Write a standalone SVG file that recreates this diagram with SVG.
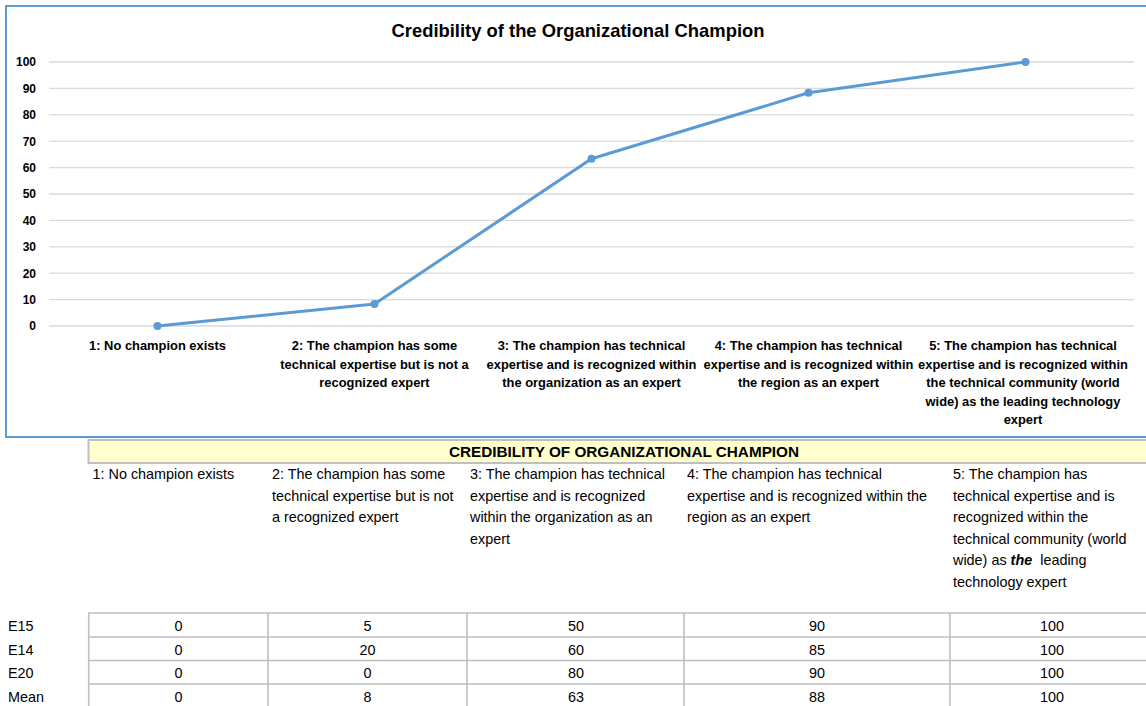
<svg xmlns="http://www.w3.org/2000/svg" width="1146" height="706" viewBox="0 0 1146 706">
<style>
text{font-family:"Liberation Sans",Arial,sans-serif;fill:#000}
.t{font-size:18.4px;font-weight:bold;text-anchor:middle}
.y{font-size:12px;font-weight:bold;text-anchor:end}
.x{font-size:12.9px;font-weight:bold;text-anchor:middle}
.d{font-size:14.4px}
.n{font-size:14.4px;text-anchor:middle}
.h{font-size:15.3px;font-weight:bold;text-anchor:middle}
.grid{stroke:#d9d9d9;stroke-width:1.3}
.tl{stroke:#bfbfbf;stroke-width:1.6;fill:none}
</style>
<rect width="1146" height="706" fill="#fff"/>
<g id="chart">
<rect x="6" y="6" width="1160" height="431" fill="#fff" stroke="#5b9bd5" stroke-width="2"/>
<text class="t" x="578" y="37">Credibility of the Organizational Champion</text>
<g id="gridlines">
<line class="grid" x1="49" y1="62" x2="1134" y2="62"/>
<line class="grid" x1="49" y1="88.4" x2="1134" y2="88.4"/>
<line class="grid" x1="49" y1="114.8" x2="1134" y2="114.8"/>
<line class="grid" x1="49" y1="141.2" x2="1134" y2="141.2"/>
<line class="grid" x1="49" y1="167.6" x2="1134" y2="167.6"/>
<line class="grid" x1="49" y1="194" x2="1134" y2="194"/>
<line class="grid" x1="49" y1="220.4" x2="1134" y2="220.4"/>
<line class="grid" x1="49" y1="246.8" x2="1134" y2="246.8"/>
<line class="grid" x1="49" y1="273.2" x2="1134" y2="273.2"/>
<line class="grid" x1="49" y1="299.6" x2="1134" y2="299.6"/>
<line class="grid" x1="49" y1="326" x2="1134" y2="326"/>
</g>
<g id="yaxis">
<text class="y" x="36" y="66.3">100</text>
<text class="y" x="36" y="92.7">90</text>
<text class="y" x="36" y="119.1">80</text>
<text class="y" x="36" y="145.5">70</text>
<text class="y" x="36" y="171.9">60</text>
<text class="y" x="36" y="198.3">50</text>
<text class="y" x="36" y="224.7">40</text>
<text class="y" x="36" y="251.1">30</text>
<text class="y" x="36" y="277.5">20</text>
<text class="y" x="36" y="303.9">10</text>
<text class="y" x="36" y="330.3">0</text>
</g>
<g id="series">
<polyline points="157.5,326 374.5,304 591.5,158.8 808.5,92.8 1025.5,62" fill="none" stroke="#5b9bd5" stroke-width="3" stroke-linejoin="round"/>
<g fill="#5b9bd5">
<circle cx="157.5" cy="326" r="4"/>
<circle cx="374.5" cy="304" r="4"/>
<circle cx="591.5" cy="158.8" r="4"/>
<circle cx="808.5" cy="92.8" r="4"/>
<circle cx="1025.5" cy="62" r="4"/>
</g>
</g>
<g id="xaxis">
<text class="x" x="157.5" y="350.3">1: No champion exists</text>
<text class="x" x="374.5" y="350.3">2: The champion has some</text>
<text class="x" x="374.5" y="368.8">technical expertise but is not a</text>
<text class="x" x="374.5" y="387.3">recognized expert</text>
<text class="x" x="591.5" y="350.3">3: The champion has technical</text>
<text class="x" x="591.5" y="368.8">expertise and is recognized within</text>
<text class="x" x="591.5" y="387.3">the organization as an expert</text>
<text class="x" x="808.5" y="350.3">4: The champion has technical</text>
<text class="x" x="808.5" y="368.8">expertise and is recognized within</text>
<text class="x" x="808.5" y="387.3">the region as an expert</text>
<text class="x" x="1023" y="350.3">5: The champion has technical</text>
<text class="x" x="1023" y="368.8">expertise and is recognized within</text>
<text class="x" x="1023" y="387.3">the technical community (world</text>
<text class="x" x="1023" y="405.8">wide) as the leading technology</text>
<text class="x" x="1023" y="424.3">expert</text>
</g>
</g>
<g id="table-header">
<rect x="88.5" y="440" width="1070" height="23" fill="#ffffcc" stroke="#bfbfbf" stroke-width="2"/>
<text class="h" x="624" y="457">CREDIBILITY OF ORGANIZATIONAL CHAMPION</text>
</g>
<g id="table-descriptions">
<text class="d" x="92.5" y="479">1: No champion exists</text>
<text class="d" x="272" y="479">2: The champion has some</text>
<text class="d" x="272" y="500.5">technical expertise but is not</text>
<text class="d" x="272" y="522">a recognized expert</text>
<text class="d" x="470" y="479">3: The champion has technical</text>
<text class="d" x="470" y="500.5">expertise and is recognized</text>
<text class="d" x="470" y="522">within the organization as an</text>
<text class="d" x="470" y="543.5">expert</text>
<text class="d" x="687" y="479">4: The champion has technical</text>
<text class="d" x="687" y="500.5">expertise and is recognized within the</text>
<text class="d" x="687" y="522">region as an expert</text>
<text class="d" x="953" y="479">5: The champion has</text>
<text class="d" x="953" y="500.5">technical expertise and is</text>
<text class="d" x="953" y="522">recognized within the</text>
<text class="d" x="953" y="543.5">technical community (world</text>
<text class="d" x="953" y="565" xml:space="preserve">wide) as <tspan font-weight="bold" font-style="italic">the</tspan>  leading</text>
<text class="d" x="953" y="586.5">technology expert</text>
</g>
<g id="table-data">
<g class="tl">
<line x1="88" y1="613" x2="1146" y2="613"/>
<line x1="88" y1="637" x2="1146" y2="637"/>
<line x1="88" y1="660.5" x2="1146" y2="660.5"/>
<line x1="88" y1="684" x2="1146" y2="684"/>
<line x1="88.7" y1="613" x2="88.7" y2="706"/>
<line x1="268" y1="613" x2="268" y2="706"/>
<line x1="467" y1="613" x2="467" y2="706"/>
<line x1="684" y1="613" x2="684" y2="706"/>
<line x1="950" y1="613" x2="950" y2="706"/>
</g>
<text class="d" x="8" y="631">E15</text>
<text class="d" x="8" y="654.5">E14</text>
<text class="d" x="8" y="678">E20</text>
<text class="d" x="8" y="701.5">Mean</text>
<text class="n" x="178.5" y="631">0</text>
<text class="n" x="367.5" y="631">5</text>
<text class="n" x="576" y="631">50</text>
<text class="n" x="817" y="631">90</text>
<text class="n" x="1052" y="631">100</text>
<text class="n" x="178.5" y="654.5">0</text>
<text class="n" x="367.5" y="654.5">20</text>
<text class="n" x="576" y="654.5">60</text>
<text class="n" x="817" y="654.5">85</text>
<text class="n" x="1052" y="654.5">100</text>
<text class="n" x="178.5" y="678">0</text>
<text class="n" x="367.5" y="678">0</text>
<text class="n" x="576" y="678">80</text>
<text class="n" x="817" y="678">90</text>
<text class="n" x="1052" y="678">100</text>
<text class="n" x="178.5" y="701.5">0</text>
<text class="n" x="367.5" y="701.5">8</text>
<text class="n" x="576" y="701.5">63</text>
<text class="n" x="817" y="701.5">88</text>
<text class="n" x="1052" y="701.5">100</text>
</g>
</svg>
